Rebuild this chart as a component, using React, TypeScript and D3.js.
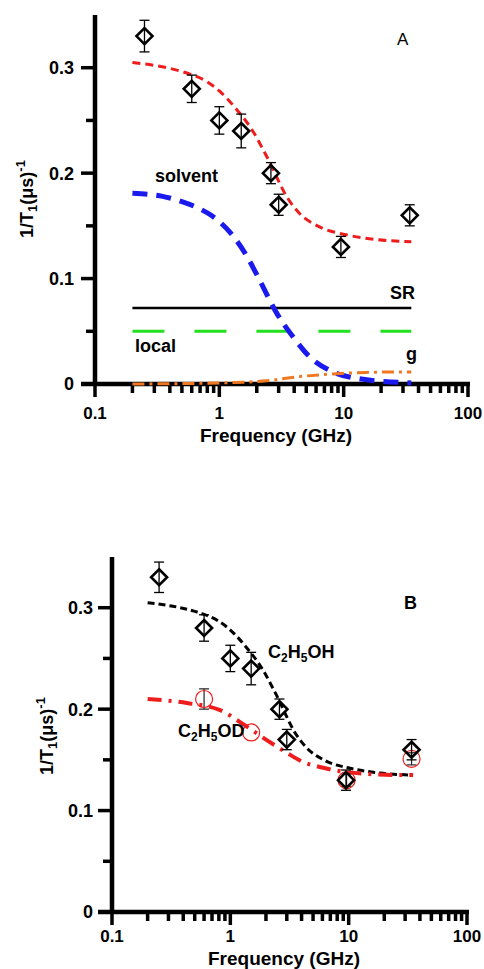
import React from "react";
import * as d3 from "d3";

// ---- data ----
const freqData = [0.25, 0.6, 1.0, 1.5, 2.6, 3.0, 9.5, 34];
const ohValues = [0.33, 0.28, 0.25, 0.24, 0.2, 0.17, 0.13, 0.16];
const ohErrors = [0.015, 0.013, 0.013, 0.016, 0.01, 0.01, 0.01, 0.01];

const freqOD = [0.6, 1.5, 9.6, 34];
const odValues = [0.21, 0.177, 0.13, 0.151];
const odErrors = [0.01, 0, 0.006, 0.006];

const fitFreq = [0.2, 0.48, 0.58, 0.79, 1.0, 1.32, 1.9, 2.4, 3.6, 4.4, 6.4, 10.5, 18.5, 35];
const fitTotal = [0.305, 0.297, 0.294, 0.287, 0.278, 0.263, 0.238, 0.216, 0.175, 0.162, 0.149, 0.1415, 0.137, 0.135];

const solventFreq = [0.2, 0.35, 0.5, 0.7, 0.86, 1.0, 1.3, 1.65, 2.1, 2.9, 3.9, 5.3, 7.7, 11.8, 35];
const solventVals = [0.181, 0.178, 0.173, 0.166, 0.16, 0.154, 0.14, 0.122, 0.099, 0.067, 0.045, 0.026, 0.013, 0.006, 0.001];

const gFreq = [0.2, 1.0, 2.4, 4.4, 8.2, 15, 35];
const gVals = [0, 0.001, 0.003, 0.007, 0.0095, 0.011, 0.0115];

const srFreq = [0.2, 35];
const srVals = [0.072, 0.072];
const localFreq = [0.2, 35];
const localVals = [0.05, 0.05];

const odFitFreq = [0.2, 0.43, 0.82, 1.2, 2.0, 3.0, 4.1, 5.7, 9.6, 27, 35];
const odFitVals = [0.21, 0.206, 0.199, 0.1875, 0.17, 0.157, 0.148, 0.143, 0.138, 0.135, 0.135];

const yMajor = [0, 0.1, 0.2, 0.3];
const yMajorLabels = ["0", "0.1", "0.2", "0.3"];
const yMinor = [0.05, 0.15, 0.25];
const xMajor = [0.1, 1, 10, 100];
const xMajorLabels = ["0.1", "1", "10", "100"];

const FONT = "'Liberation Sans', Arial, Helvetica, sans-serif";

type Scales = { x: d3.ScaleLogarithmic<number, number>; y: d3.ScaleLinear<number, number> };

function makeLine(s: Scales, fx: number[], fy: number[]) {
  const pts = fx.map((f, i) => [s.x(f), s.y(fy[i])] as [number, number]);
  return d3.line().curve(d3.curveMonotoneX)(pts) || "";
}

function Axes({ s, yLabelX, yLabelY, xTitleX, xTitleY, tickLabelY, yTickGap }: any) {
  const x0 = s.x(0.1);
  const xMinor: number[] = [];
  [0.1, 1, 10].forEach((d) => {
    for (let k = 2; k <= 9; k++) xMinor.push(d * k);
  });
  const y0 = s.y(0);
  return (
    <g>
      <line x1={x0} x2={x0} y1={s.y(0.35)} y2={y0 + 2} stroke="#000" strokeWidth={4.5} />
      <line x1={x0 - 14} x2={s.x(100) + 2} y1={y0} y2={y0} stroke="#000" strokeWidth={4.5} />
      {yMajor.map((v) => (
        <line key={"ym" + v} x1={x0 - 14} x2={x0} y1={s.y(v)} y2={s.y(v)} stroke="#000" strokeWidth={3.5} />
      ))}
      {yMinor.map((v) => (
        <line key={"yn" + v} x1={x0 - 9} x2={x0} y1={s.y(v)} y2={s.y(v)} stroke="#000" strokeWidth={3.5} />
      ))}
      {xMajor.map((v) => (
        <line key={"xm" + v} x1={s.x(v)} x2={s.x(v)} y1={y0} y2={y0 + 13} stroke="#000" strokeWidth={3.5} />
      ))}
      {xMinor.map((v) => (
        <line key={"xn" + v} x1={s.x(v)} x2={s.x(v)} y1={y0} y2={y0 + 9} stroke="#000" strokeWidth={3.5} />
      ))}
      {yMajor.map((v, i) => (
        <text key={"yl" + v} x={x0 - yTickGap} y={s.y(v)} dy="0.36em" textAnchor="end" fontFamily={FONT} fontWeight="bold" fontSize={18}>
          {yMajorLabels[i]}
        </text>
      ))}
      {xMajor.map((v, i) => (
        <text key={"xl" + v} x={s.x(v)} y={tickLabelY} textAnchor="middle" fontFamily={FONT} fontWeight="bold" fontSize={17}>
          {xMajorLabels[i]}
        </text>
      ))}
      <text x={xTitleX} y={xTitleY} textAnchor="middle" fontFamily={FONT} fontWeight="bold" fontSize={19}>
        Frequency (GHz)
      </text>
      <text transform={`translate(${yLabelX},${yLabelY}) rotate(-90)`} textAnchor="middle" fontFamily={FONT} fontWeight="bold" fontSize={18}>
        1/T<tspan fontSize={13} dy={4}>1</tspan>
        <tspan dy={-4}>(μs)</tspan>
        <tspan fontSize={13} dy={-8}>-1</tspan>
      </text>
    </g>
  );
}

function Diamonds({ s, fx, fy, fe }: any) {
  return (
    <g>
      {fx.map((f: number, i: number) => {
        const cx = s.x(f);
        const cy = s.y(fy[i]);
        const t = s.y(fy[i] + fe[i]);
        const b = s.y(fy[i] - fe[i]);
        const r = 8;
        return (
          <g key={i}>
            <line x1={cx} x2={cx} y1={t} y2={b} stroke="#000" strokeWidth={1.3} />
            <line x1={cx - 5} x2={cx + 5} y1={t} y2={t} stroke="#000" strokeWidth={1.3} />
            <line x1={cx - 5} x2={cx + 5} y1={b} y2={b} stroke="#000" strokeWidth={1.3} />
            <path d={`M${cx},${cy - r}L${cx + r},${cy}L${cx},${cy + r}L${cx - r},${cy}Z`} fill="none" stroke="#000" strokeWidth={2.6} />
          </g>
        );
      })}
    </g>
  );
}

export default function App() {
  const sA: Scales = {
    x: d3.scaleLog().domain([0.1, 100]).range([95, 468]),
    y: d3.scaleLinear().domain([0, 0.35]).range([384, 15]),
  };
  const sB: Scales = {
    x: d3.scaleLog().domain([0.1, 100]).range([112, 467]),
    y: d3.scaleLinear().domain([0, 0.35]).range([912, 557]),
  };
  const txt = { fontFamily: FONT, fontWeight: "bold" as const, fontSize: 18 };
  return (
    <svg width={484} height={969} style={{ position: "absolute", left: 0, top: 0, background: "#fff" }}>
      {/* Panel A */}
      <Axes s={sA} yLabelX={33} yLabelY={199} xTitleX={276} xTitleY={442} tickLabelY={419} yTickGap={21} />
      <path d={makeLine(sA, srFreq, srVals)} fill="none" stroke="#000" strokeWidth={2.5} />
      <path d={makeLine(sA, localFreq, localVals)} fill="none" stroke="#22e01e" strokeWidth={3} strokeDasharray="32,30" />
      <path d={makeLine(sA, solventFreq, solventVals)} fill="none" stroke="#1a1aef" strokeWidth={5} strokeDasharray="15,9" />
      <path d={makeLine(sA, gFreq, gVals)} fill="none" stroke="#f07820" strokeWidth={3} strokeDasharray="12,5,3,5" />
      <path d={makeLine(sA, fitFreq, fitTotal)} fill="none" stroke="#ee1c1c" strokeWidth={3} strokeDasharray="8,5" />
      <Diamonds s={sA} fx={freqData} fy={ohValues} fe={ohErrors} />
      <text x={155} y={182} {...txt}>solvent</text>
      <text x={390} y={299} {...txt}>SR</text>
      <text x={135} y={352} {...txt}>local</text>
      <text x={406} y={360} {...txt}>g</text>
      <text x={397} y={45} fontFamily={FONT} fontSize={17}>A</text>

      {/* Panel B */}
      <Axes s={sB} yLabelX={53} yLabelY={736} xTitleX={284} xTitleY={965} tickLabelY={942} yTickGap={19} />
      <path d={makeLine(sB, fitFreq, fitTotal)} fill="none" stroke="#000" strokeWidth={3} strokeDasharray="7,4" />
      <path d={makeLine(sB, odFitFreq, odFitVals)} fill="none" stroke="#ee1c1c" strokeWidth={4} strokeDasharray="14,7,3,7" />
      {freqOD.map((f, i) => {
        const cx = sB.x(f);
        const cy = sB.y(odValues[i]);
        const t = sB.y(odValues[i] + odErrors[i]);
        const b = sB.y(odValues[i] - odErrors[i]);
        return (
          <g key={"od" + i}>
            {odErrors[i] > 0 && (
              <g>
                <line x1={cx} x2={cx} y1={t} y2={b} stroke="#222" strokeWidth={1.2} />
                <line x1={cx - 5} x2={cx + 5} y1={t} y2={t} stroke="#222" strokeWidth={1.2} />
                <line x1={cx - 5} x2={cx + 5} y1={b} y2={b} stroke="#222" strokeWidth={1.2} />
              </g>
            )}
            <circle cx={cx} cy={cy} r={8.5} fill="none" stroke="#ee1c1c" strokeWidth={1.2} />
          </g>
        );
      })}
      <Diamonds s={sB} fx={freqData} fy={ohValues} fe={ohErrors} />
      <text x={268} y={658} {...txt}>
        C<tspan fontSize={12} dy={4}>2</tspan>
        <tspan dy={-4}>H</tspan>
        <tspan fontSize={12} dy={4}>5</tspan>
        <tspan dy={-4}>OH</tspan>
      </text>
      <text x={178} y={737} {...txt}>
        C<tspan fontSize={12} dy={4}>2</tspan>
        <tspan dy={-4}>H</tspan>
        <tspan fontSize={12} dy={4}>5</tspan>
        <tspan dy={-4}>OD</tspan>
      </text>
      <text x={404} y={609} {...txt}>B</text>
    </svg>
  );
}
